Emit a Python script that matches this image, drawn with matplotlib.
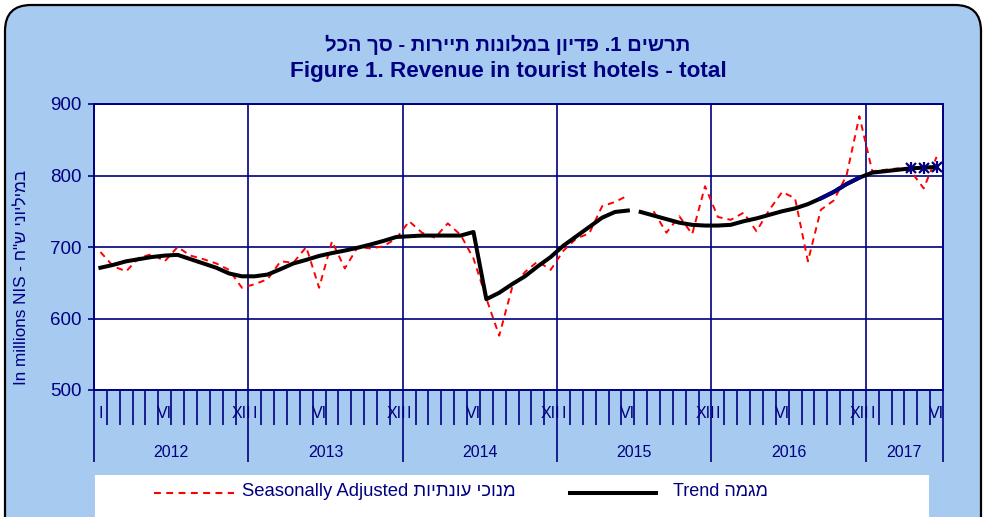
import numpy as np
import matplotlib
matplotlib.use("Agg")
import matplotlib.pyplot as plt
from matplotlib.patches import FancyBboxPatch, Rectangle
from matplotlib.lines import Line2D
from matplotlib.transforms import IdentityTransform

nan = np.nan

# ---------------- data ----------------
years = ["2012", "2013", "2014", "2015", "2016", "2017"]
months_per_year = [12, 12, 12, 12, 12, 6]
month_labels = {0: "I", 5: "VI", 11: "XII"}

seasonally_adjusted = [
    693, 673, 666, 685, 690, 680, 700, 688, 683, 677, 668, 643,
    648, 655, 680, 678, 700, 643, 708, 670, 700, 698, 701, 712,
    736, 720, 713, 733, 717, 684, 628, 576, 643, 665, 680, 668,
    695, 712, 719, 757, 763, 772, nan, 750, 720, 743, 718, 785,
    742, 738, 748, 722, 752, 777, 768, 680, 752, 765, 800, 883,
    806, 808, 810, 806, 782, 826,
]
trend = [
    671, 675, 680, 683, 686, 688, 689, 683, 677, 671, 663, 659,
    659, 661.5, 669, 677, 682, 687.5, 691.5, 695, 699, 703.5, 708.5, 714,
    715, 716, 716, 716, 716, 721, 627, 636, 648, 659, 673, 686,
    702, 715, 728, 741, 749, 751, 749, 744, 739, 734, 731, 730,
    730, 731, 736, 740, 745, 750, 754, 760, 768, 777, 788, 797,
    804, 806, 808, 810, 811, 812,
]
label_sa = "Seasonally Adjusted " + "תויתנוע יכונמ"
label_trend = "Trend " + "המגמ"
title_he = "לכה ךס - תוריית תונולמב ןוידפ .1 םישרת"
title_en = "Figure 1. Revenue in tourist hotels - total"
ylabel = 'In millions NIS - ח"ש ינוילימב'

# ---------------- style ----------------
W, H = 985, 517
NAVY = "#000080"
BG = "#a6caf0"
plt.rcParams["font.family"] = ["Liberation Sans", "DejaVu Sans"]

fig = plt.figure(figsize=(W / 100, H / 100), dpi=100)
fig.patch.set_facecolor("white")

bg = FancyBboxPatch((5, -40), 976, 552, boxstyle="round,pad=0,rounding_size=26",
                    transform=IdentityTransform(), facecolor=BG, edgecolor="black",
                    linewidth=1.6, zorder=0)
fig.add_artist(bg)

ax = fig.add_axes([94 / W, 1 - 390 / H, (943 - 94) / W, (390 - 104) / H])
ax.set_facecolor("white")
ax.set_axisbelow(True)

n = len(trend)
x = np.arange(n) + 0.5
sa = np.array(seasonally_adjusted, dtype=float)
tr = np.array(trend, dtype=float)

l_sa, = ax.plot(x, sa, color="red", lw=1.4, dashes=(3.3, 2.6), zorder=3)
l_tr, = ax.plot(x[:42], tr[:42], color="black", lw=2.9, zorder=4)
ax.plot(x[42:], tr[42:], color="black", lw=2.9, zorder=4)
ax.plot(x[56:60], tr[56:60], color=NAVY, lw=2.9, zorder=5)
ax.plot(x[63:], tr[63:], ls="none", marker="x", ms=7, mec=NAVY, mew=1.6, zorder=6)
ax.plot(x[63:], tr[63:], ls="none", marker="|", ms=9, mec=NAVY, mew=1.6, zorder=6)

ax.set_xlim(0, n)
ax.set_ylim(500, 900)
ax.set_yticks([500, 600, 700, 800, 900])
bounds = list(np.cumsum([0] + months_per_year))
ax.set_xticks(bounds)
ax.set_xticks(np.arange(0, n + 1), minor=True)
ax.grid(True, which="major", color=NAVY, lw=1.2)
ax.tick_params(axis="x", which="major", length=52, width=1.2, color=NAVY, labelbottom=False)
ax.tick_params(axis="x", which="minor", length=25, width=1.2, color=NAVY)
ax.tick_params(axis="y", length=4, width=1.2, color=NAVY, labelcolor=NAVY, labelsize=13.5, pad=5)
for s in ax.spines.values():
    s.set_color(NAVY)
    s.set_linewidth(1.4)

xt = ax.get_xaxis_transform()
for yi, (yr, nm) in enumerate(zip(years, months_per_year)):
    start = bounds[yi]
    for m in range(nm):
        if m in month_labels:
            ax.text(start + m + 0.5, -0.082, month_labels[m], transform=xt, ha="center",
                    va="center", fontsize=11.5, color=NAVY)
    ax.text(start + nm / 2, -0.218, yr, transform=xt, ha="center", va="center",
            fontsize=11.5, color=NAVY)

fig.text(508 / W, 1 - 45 / H, title_he, ha="center", va="center", fontsize=14.6,
         fontweight="bold", color=NAVY)
fig.text(508 / W, 1 - 72 / H, title_en, ha="center", va="center", fontsize=16.2,
         fontweight="bold", color=NAVY)
fig.text(22 / W, 1 - 277 / H, ylabel, rotation=90, ha="center", va="center",
         fontsize=12.3, color=NAVY)

# legend box
fig.add_artist(Rectangle((95 / W, -0.05), (929 - 95) / W, 0.05 + 1 - 475 / H,
                         transform=fig.transFigure, facecolor="white", edgecolor="none",
                         zorder=1))
ly = 1 - 492.5 / H
fig.add_artist(Line2D([154 / W, 234 / W], [ly, ly], transform=fig.transFigure,
                      color=l_sa.get_color(), lw=1.5, dashes=(3.3, 2.6), zorder=2))
fig.add_artist(Line2D([570 / W, 656 / W], [ly, ly], transform=fig.transFigure,
                      color=l_tr.get_color(), lw=2.9, zorder=2))
fig.text(242 / W, 1 - 491 / H, label_sa, ha="left", va="center", fontsize=13.3,
         color=NAVY, zorder=3)
fig.text(673 / W, 1 - 491 / H, label_trend, ha="left", va="center", fontsize=13,
         color=NAVY, zorder=3)

fig.savefig("out.png", dpi=100, facecolor=fig.get_facecolor())
